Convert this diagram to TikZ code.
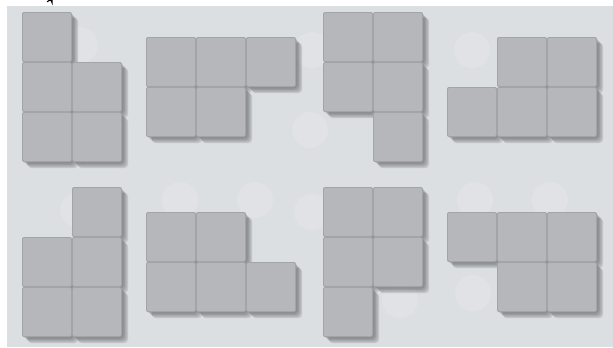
\documentclass[tikz,border=0pt]{standalone}
\definecolor{boardbg}{HTML}{DCDFE2}
\definecolor{tileface}{HTML}{B5B7BB}
\definecolor{tileseam}{HTML}{A0A2A6}
\definecolor{tileshade}{HTML}{55575B}
\definecolor{spotgray}{HTML}{E0E2E5}
\tikzset{
  board/.style={fill=boardbg},
  spot/.style={fill=spotgray},
  seam/.style={fill=tileseam, rounded corners=3},
  face/.style={fill=tileface, rounded corners=2},
  shade/.style={fill=tileshade, opacity=0.2, rounded corners=5},
  hook/.style={line width=1.6pt, line cap=round}
}
% one piece: top-left corner (#1,#2), cells col/row in #3
\newcommand{\tilepiece}[3]{%
  \begin{scope}[shift={(#1,#2)}]
    \foreach \k in {1.5,3,4.5,6}
      \fill[shade] \foreach \c/\r in {#3} {(\c*50+\k,\r*50+\k) rectangle ++(50,50)};
    \fill[seam] \foreach \c/\r in {#3} {(\c*50,\r*50) rectangle ++(50,50)};
    \foreach \c/\r in {#3}
      \fill[face] (\c*50+0.9,\r*50+0.9) rectangle ++(48.2,48.2);
  \end{scope}}

\begin{document}
\begin{tikzpicture}[x=0.05cm, y=-0.05cm]
  \useasboundingbox (0,0) rectangle (613,347);
  \fill[white] (0,0) rectangle (613,347);
  \fill[board] (7,6) rectangle (613,347);
  % cut-off glyph of the caption above
  \draw[hook] (52,0) -- (52,2.5) arc (0:-160:2.4);
  % faint spots on the board
  \foreach \x/\y in {80/45, 312/50, 310/130, 472/50, 78/210, 180/200, 255/200,
                     312/212, 475/200, 550/200, 473/293, 400/300}
    \fill[spot] (\x,\y) circle (18);
  % top row
  \tilepiece{22}{12}{0/0,0/1,1/1,0/2,1/2}
  \tilepiece{146}{37}{0/0,1/0,2/0,0/1,1/1}
  \tilepiece{323}{12}{0/0,1/0,0/1,1/1,1/2}
  \tilepiece{447}{37}{1/0,2/0,0/1,1/1,2/1}
  % bottom row
  \tilepiece{22}{187}{1/0,0/1,1/1,0/2,1/2}
  \tilepiece{146}{212}{0/0,1/0,0/1,1/1,2/1}
  \tilepiece{323}{187}{0/0,1/0,0/1,1/1,0/2}
  \tilepiece{447}{212}{0/0,1/0,2/0,1/1,2/1}
\end{tikzpicture}
\end{document}
